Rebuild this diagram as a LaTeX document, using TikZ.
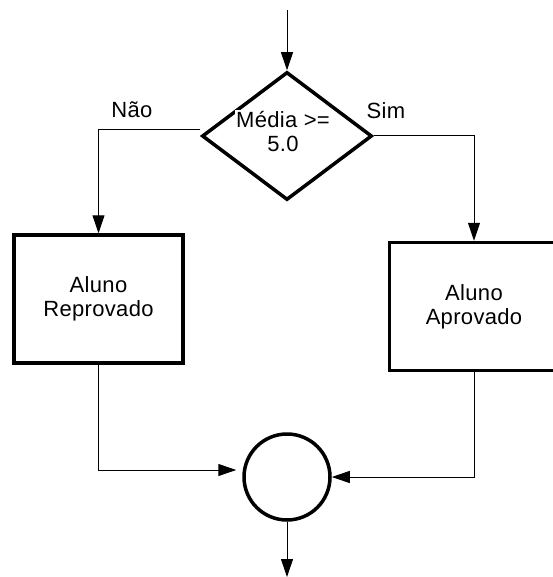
\documentclass[tikz,border=0pt]{standalone}
\usepackage{fontspec}
\setmainfont[LetterSpace=1.5]{Liberation Sans}
\usetikzlibrary{arrows.meta,shapes.geometric}

\begin{document}
\begin{tikzpicture}[x=1pt, y=-1pt,
        every node/.style={font=\fontsize{22}{24}\selectfont},
        line/.style={line width=1pt, -{Triangle[length=18pt,width=12pt]}},
        box/.style={draw, rectangle, line width=3.5pt, minimum width=169pt, minimum height=128pt, align=center}]

        \useasboundingbox (0,0) rectangle (552,577);

        \coordinate (start) at (287,10);
        \coordinate (end) at (287,577);

        \node[name=media, draw, diamond, line width=3.5pt, minimum width=170pt, minimum height=128pt, inner sep=0pt] at (287,136) {};
        \node[name=mediatext, fill=white, inner sep=1.5pt, align=center] at (283,132) {Média >=\\5.0};
        \node[name=rep, box] at (98.5,299) {Aluno\\Reprovado};
        \node[name=apr, box] at (474,306.5) {Aluno\\Aprovado};
        \node[name=junta, draw, circle, line width=3.5pt, minimum size=86pt, inner sep=0pt] at (287,477) {};

        \node[name=nao] at (132,110) {Não};
        \node[name=sim] at (386,111) {Sim};

        \draw[line] (start) -- (media.north);
        \draw[line] ([yshift=6pt]media.west) -| (rep.north);
        \draw[line] (media.east) -| (apr.north);
        \draw[line] (rep.south) |- ([xshift=-6pt,yshift=7pt]junta.west);
        \draw[line] (apr.south) |- (junta.east);
        \draw[line] (junta.south) -- (end);
    \end{tikzpicture}
\end{document}
